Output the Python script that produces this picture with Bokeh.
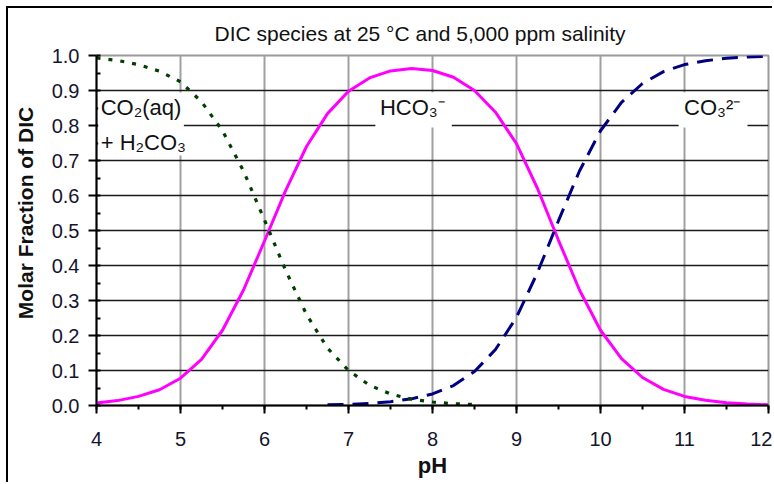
from bokeh.plotting import figure
from bokeh.models import (Label, BoxAnnotation, FixedTicker, SingleIntervalTicker,
                          NumeralTickFormatter, Range1d)
from bokeh.embed import file_html
from bokeh.resources import INLINE

# ---------------- data ----------------
ph_hco3 = [4.0, 4.25, 4.5, 4.75, 5.0, 5.25, 5.5, 5.75, 6.0, 6.25, 6.5, 6.75, 7.0,
           7.25, 7.5, 7.75, 8.0, 8.25, 8.5, 8.75, 9.0, 9.25, 9.5, 9.75, 10.0,
           10.25, 10.5, 10.75, 11.0, 11.25, 11.5, 11.75, 12.0]
hco3 = [0.007, 0.014, 0.026, 0.045, 0.078, 0.132, 0.215, 0.330, 0.470, 0.613,
        0.740, 0.834, 0.898, 0.936, 0.956, 0.963, 0.957, 0.938, 0.900, 0.838,
        0.748, 0.620, 0.472, 0.330, 0.215, 0.134, 0.080, 0.046, 0.026, 0.015,
        0.008, 0.004, 0.002]

ph_co2 = [4.0, 4.25, 4.5, 4.75, 5.0, 5.25, 5.5, 5.75, 6.0, 6.25, 6.5, 6.75, 7.0,
          7.25, 7.5, 7.75, 8.0, 8.25, 8.5]
co2 = [0.993, 0.986, 0.974, 0.955, 0.925, 0.868, 0.785, 0.670, 0.530, 0.387,
       0.260, 0.164, 0.100, 0.058, 0.033, 0.018, 0.010, 0.005, 0.003]

ph_co3 = [6.75, 7.0, 7.25, 7.5, 7.75, 8.0, 8.25, 8.5, 8.75, 9.0, 9.25, 9.5, 9.75,
          10.0, 10.25, 10.5, 10.75, 11.0, 11.25, 11.5, 11.75, 12.0]
co3 = [0.002, 0.003, 0.006, 0.011, 0.019, 0.033, 0.057, 0.097, 0.160, 0.252,
       0.380, 0.528, 0.670, 0.785, 0.866, 0.920, 0.954, 0.974, 0.985, 0.992,
       0.996, 0.998]

x_grid = [5, 6, 7, 8, 9, 10, 11]
y_grid = [0.1, 0.2, 0.3, 0.4, 0.5, 0.6, 0.7, 0.8, 0.9]

title_text = "DIC species at 25 °C and 5,000 ppm salinity"
y_label_text = "Molar Fraction of DIC"
x_label_text = "pH"

# ---------------- figure ----------------
p = figure(width=766, height=476, output_backend="svg", toolbar_location=None,
           x_range=Range1d(4, 12), y_range=Range1d(0, 1),
           min_border_left=88, min_border_right=6, min_border_top=46,
           min_border_bottom=79, title=title_text)
p.styles = {"margin-left": "6px", "margin-top": "6px",
            "border-left": "2px solid #000000", "border-top": "2px solid #000000"}
p.background_fill_color = "white"
p.border_fill_color = "white"
p.outline_line_color = "#9a9a9a"
p.outline_line_width = 2

p.title.text_font = "Liberation Sans"
p.title.text_font_size = "21px"
p.title.text_font_style = "normal"
p.title.text_color = "#111111"
p.title.align = "left"
p.title.offset = 118
p.title.standoff = 22

# grids
p.xgrid.ticker = FixedTicker(ticks=x_grid)
p.ygrid.ticker = FixedTicker(ticks=y_grid)
p.xgrid.grid_line_color = "#a0a0a0"
p.xgrid.grid_line_width = 2
p.ygrid.grid_line_color = "#1a1a1a"
p.ygrid.grid_line_width = 1.6

# axes
p.xaxis.ticker = SingleIntervalTicker(interval=1, num_minor_ticks=2)
p.yaxis.ticker = SingleIntervalTicker(interval=0.1, num_minor_ticks=2)
p.yaxis.formatter = NumeralTickFormatter(format="0.0")
for ax in (p.xaxis, p.yaxis):
    ax.axis_line_color = "black"
    ax.axis_line_width = 2
    ax.major_tick_line_color = "black"
    ax.major_tick_line_width = 2
    ax.minor_tick_line_color = "black"
    ax.minor_tick_line_width = 2
    ax.major_tick_in = 0
    ax.major_tick_out = 8
    ax.major_label_text_font = "Liberation Sans"
    ax.major_label_text_font_size = "20px"
    ax.major_label_text_color = "#14142e"
    ax.axis_label_text_font = "Liberation Sans"
    ax.axis_label_text_font_style = "bold"
    ax.axis_label_text_color = "#111111"
p.xaxis.minor_tick_in = 0
p.xaxis.minor_tick_out = 4
p.yaxis.minor_tick_in = 4
p.yaxis.minor_tick_out = 0
p.xaxis.major_label_standoff = 18
p.yaxis.major_label_standoff = 9

p.xaxis.axis_label = x_label_text
p.xaxis.axis_label_text_font_size = "22px"
p.xaxis.axis_label_standoff = 4
p.yaxis.axis_label = "\u00a0" * 6 + y_label_text
p.yaxis.axis_label_text_font_size = "21px"
p.yaxis.axis_label_standoff = 12

# curves
p.line(ph_hco3, hco3, line_color="#ff00ff", line_width=3)
p.line(ph_co3, co3, line_color="#000080", line_width=3, line_dash="16 9")
p.line(ph_co2, co2, line_color="#003f00", line_width=3.2, line_dash="4 8")

# label boxes (white, hiding grid lines)
for l, r, b, t in [(4.02, 5.04, 0.714, 0.894), (7.32, 8.23, 0.794, 0.895),
                   (10.93, 11.75, 0.794, 0.895)]:
    p.add_layout(BoxAnnotation(left=l, right=r, bottom=b, top=t,
                               fill_color="white", fill_alpha=1.0,
                               line_color=None))

def lab(x, y, text, align="left"):
    p.add_layout(Label(x=x, y=y, text=text, text_font="Liberation Sans",
                       text_font_size="22px", text_align=align,
                       text_baseline="middle", text_color="#111111"))

lab(4.05, 0.852, "CO₂(aq)")
lab(4.05, 0.752, "+ H₂CO₃")
lab(7.76, 0.852, "HCO₃⁻", align="center")
lab(11.33, 0.852, "CO₃²⁻", align="center")

open("out.html", "w").write(file_html(p, INLINE))
